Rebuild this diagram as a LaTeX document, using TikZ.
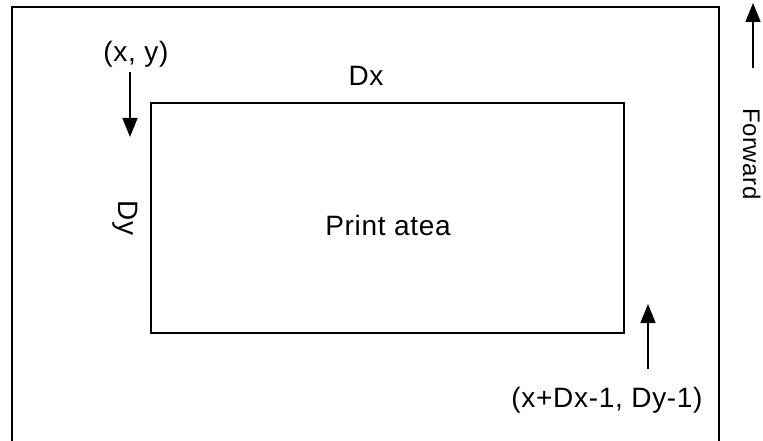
\documentclass[tikz,border=0pt]{standalone}
\usepackage{fontspec}
\setmainfont{Liberation Sans}[LetterSpace=2.5]
\usetikzlibrary{arrows.meta}
\begin{document}
\begin{tikzpicture}[x=1pt,y=-1pt,
  frame/.style={draw=black,line width=1.8pt},
  arr/.style={line width=1.6pt,-{Triangle[width=15pt,length=19pt]}},
  lbl/.style={inner sep=0pt,font=\fontsize{28}{33}\selectfont},
  lblsmall/.style={inner sep=0pt,font=\fontsize{24}{29}\selectfont}]
\useasboundingbox (0,0) rectangle (763,441);
% outer frame (open at the bottom)
\draw[frame] (12,441) -- (12,7) -- (719,7) -- (719,441);
% print area
\node[frame,minimum width=473pt,minimum height=230pt,inner sep=0pt,anchor=north west] (area) at (150,102) {};
\node[lbl,anchor=base] (pa) at (388,235) {Print atea};
\node[lbl,anchor=base] (dx) at (366,86) {Dx};
\node[lbl,anchor=base,rotate=-90] (dy) at (118,218) {Dy};
% start point
\node[lbl,anchor=base] (xy) at (136,62) {(x, y)};
\coordinate (a1s) at (130,72);
\coordinate (a1e) at (130,137);
\draw[arr] (a1s) -- (a1e);
% end point
\node[lbl,anchor=base] (end) at (607,407) {(x+Dx-1, Dy-1)};
\coordinate (a2s) at (648,369);
\coordinate (a2e) at (648,304);
\draw[arr] (a2s) -- (a2e);
% forward direction
\coordinate (fs) at (753,68);
\coordinate (fe) at (753,3);
\draw[arr] (fs) -- (fe);
\node[lblsmall,anchor=base,rotate=-90] (fwd) at (743,154) {Forward};
\end{tikzpicture}
\end{document}
